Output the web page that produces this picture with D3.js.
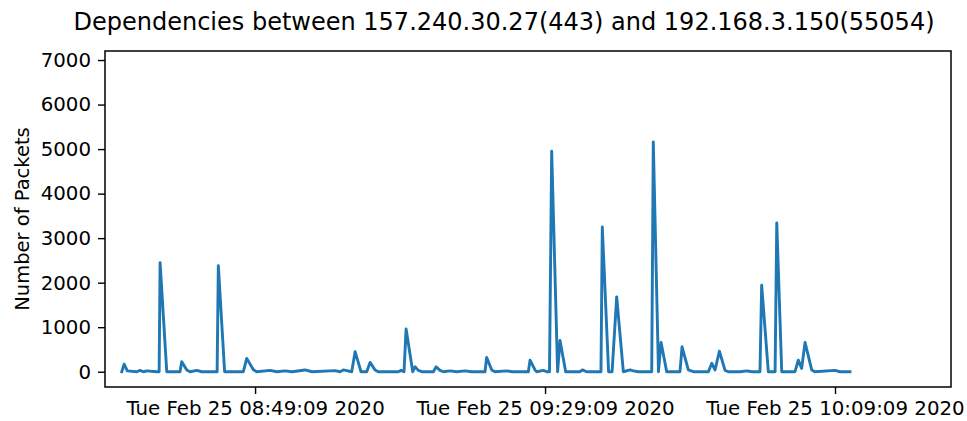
<!DOCTYPE html>
<html>
<head>
<meta charset="utf-8">
<script src="https://cdn.jsdelivr.net/npm/d3@7"></script>
<style>
  body { margin: 0; background: #fff; }
  text { font-family: "DejaVu Sans", sans-serif; fill: #000; }
</style>
</head>
<body>
<div id="chart"></div>
<script>
// data
const day = "2020-02-25";
const times = [
  "08:30:46","08:31:05","08:31:32","08:32:50","08:33:17","08:33:45","08:34:13","08:35:35","08:35:55","08:36:03",
  "08:36:58","08:38:48","08:39:02","08:39:44","08:40:11","08:41:07","08:41:48","08:43:38","08:43:55","08:44:05",
  "08:44:57","08:47:32","08:48:00","08:48:55","08:49:23","08:51:13","08:52:11","08:53:17","08:54:15","08:56:03",
  "08:57:01","09:00:11","09:00:52","09:01:20","09:02:29","09:02:57","09:03:46","09:04:33","09:05:01","09:05:42",
  "09:06:09","09:08:55","09:09:17","09:09:42","09:09:59","09:10:54","09:11:13","09:11:40","09:12:09","09:13:45",
  "09:14:07","09:14:40","09:15:07","09:16:03","09:16:58","09:18:07","09:19:02","09:20:52","09:21:06","09:21:48",
  "09:22:15","09:23:52","09:24:36","09:26:51","09:27:05","09:27:46","09:28:00","09:28:55","09:29:23","09:29:46",
  "09:30:04","09:30:53","09:31:13","09:32:00","09:33:59","09:34:18","09:34:54","09:36:52","09:37:03","09:37:55",
  "09:38:24","09:39:02","09:39:57","09:40:53","09:41:20","09:42:01","09:43:52","09:44:05","09:44:48","09:45:09",
  "09:45:56","09:47:46","09:48:03","09:48:55","09:49:36","09:51:41","09:52:09","09:52:36","09:53:12","09:53:59",
  "09:54:26","09:56:03","09:56:58","09:57:42","09:58:48","09:59:02","09:59:57","10:00:53","10:01:07","10:01:48",
  "10:03:38","10:04:05","10:04:33","10:05:01","10:05:56","10:06:23","10:09:09","10:09:50","10:11:13"
];
const packets = [
  0,170,20,0,30,0,20,0,0,2450,
  0,0,225,40,0,30,0,0,0,2380,
  0,0,300,45,0,30,0,20,0,40,
  0,25,0,40,0,450,0,0,210,40,
  0,0,30,0,960,0,110,30,0,0,
  110,30,0,20,0,20,0,0,320,40,
  0,20,0,0,260,40,0,30,0,0,
  4950,0,700,0,0,40,0,0,3250,0,
  0,1680,0,40,20,0,0,5160,0,660,
  0,0,560,40,0,0,190,40,460,30,
  0,0,20,0,0,1944,0,0,3344,0,
  0,260,75,660,40,0,30,0,0
];
const xTicks = ["08:49:09", "09:29:09", "10:09:09"];
const yTicks = [0, 1000, 2000, 3000, 4000, 5000, 6000, 7000];
const xRange = ["08:28:27", "10:25:09"];
const yRange = [-343, 7203];

const width = 967, height = 421;
const margin = {top: 51, right: 16, bottom: 34, left: 105};
const w = width - margin.left - margin.right;
const h = height - margin.top - margin.bottom;

const parse = d3.timeParse("%Y-%m-%d %H:%M:%S");
const data = times.map((t, i) => ({t: parse(day + " " + t), v: packets[i]}));

const svg = d3.select("#chart")
  .append("svg")
    .attr("width", width)
    .attr("height", height);

const g = svg.append("g")
  .attr("transform", `translate(${margin.left},${margin.top})`);

const x = d3.scaleTime()
  .domain(xRange.map(t => parse(day + " " + t)))
  .range([0, w]);

const y = d3.scaleLinear()
  .domain(yRange)
  .range([h, 0]);

// X axis
const xAxis = g.append("g")
  .attr("transform", `translate(0,${h})`)
  .call(d3.axisBottom(x)
    .tickValues(xTicks.map(t => parse(day + " " + t)))
    .tickFormat(d3.timeFormat("%a %b %d %H:%M:%S %Y"))
    .tickSize(7).tickPadding(7).tickSizeOuter(0));
xAxis.select(".domain").remove();
xAxis.selectAll("line").attr("stroke", "#000").attr("stroke-width", 1.4);
xAxis.selectAll("text").style("font-size", "19.8px").style("font-family", "DejaVu Sans");

// Y axis
const yAxis = g.append("g")
  .call(d3.axisLeft(y)
    .tickValues(yTicks)
    .tickFormat(d3.format("d"))
    .tickSize(7).tickPadding(7).tickSizeOuter(0));
yAxis.select(".domain").remove();
yAxis.selectAll("line").attr("stroke", "#000").attr("stroke-width", 1.4);
yAxis.selectAll("text").style("font-size", "19.8px").style("font-family", "DejaVu Sans");

// line
const line = d3.line()
  .x(d => x(d.t))
  .y(d => y(d.v));

g.append("path")
  .datum(data)
  .attr("fill", "none")
  .attr("stroke", "#1f77b4")
  .attr("stroke-width", 2.9)
  .attr("stroke-linejoin", "round")
  .attr("stroke-linecap", "square")
  .attr("d", line);

// frame
g.append("rect")
  .attr("width", w)
  .attr("height", h)
  .attr("fill", "none")
  .attr("stroke", "#000")
  .attr("stroke-width", 1.5);

// Y axis label
g.append("text")
  .attr("text-anchor", "middle")
  .attr("transform", `translate(${22 - margin.left},${h / 2}) rotate(-90)`)
  .attr("dy", "0.35em")
  .style("font-size", "19.5px")
  .text("Number of Packets");

// title
svg.append("text")
  .attr("text-anchor", "middle")
  .attr("x", 504)
  .attr("y", 22)
  .attr("dy", "0.35em")
  .style("font-size", "24px")
  .text("Dependencies between 157.240.30.27(443) and 192.168.3.150(55054)");
</script>
</body>
</html>
